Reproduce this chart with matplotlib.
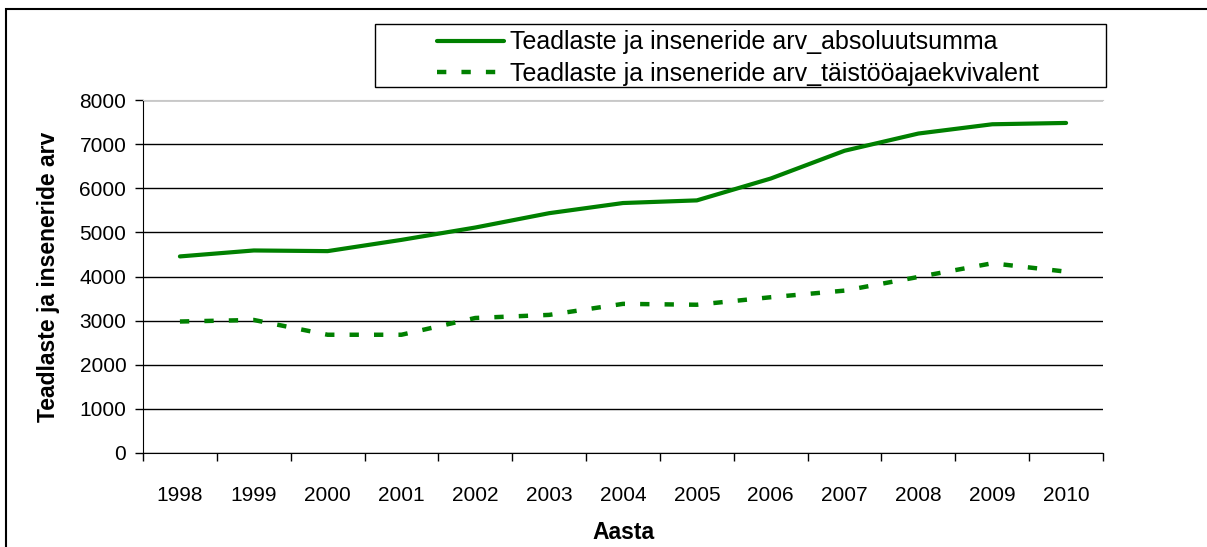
import matplotlib
matplotlib.use('Agg')
import matplotlib.pyplot as plt
from matplotlib.patches import Rectangle
import numpy as np

plt.rcParams['font.family'] = ['Liberation Sans', 'DejaVu Sans']

years = ['1998', '1999', '2000', '2001', '2002', '2003', '2004',
         '2005', '2006', '2007', '2008', '2009', '2010']
absolute = [4455, 4590, 4575, 4830, 5110, 5435, 5665,
            5725, 6220, 6850, 7240, 7450, 7480]
fte = [2980, 3015, 2680, 2680, 3060, 3130, 3380,
       3360, 3530, 3680, 3990, 4300, 4110]

label_abs = 'Teadlaste ja inseneride arv_absoluutsumma'
label_fte = 'Teadlaste ja inseneride arv_täistööajaekvivalent'
green = '#008000'

W, H = 1207, 547
fig = plt.figure(figsize=(W / 100, H / 100), dpi=100)
ax = fig.add_axes([143 / W, 1 - 453 / H, (1103 - 143) / W, 353 / H])

x = np.arange(len(years))
ax.plot(x, absolute, color=green, lw=3, solid_capstyle='round',
        solid_joinstyle='round', label=label_abs)
ax.plot(x, fte, color=green, lw=3.2, dashes=(2.1, 3.4), dash_capstyle='butt',
        label=label_fte)

ax.set_xlim(-0.5, len(years) - 0.5)
ax.set_ylim(0, 8000)
ax.set_yticks(range(0, 8001, 1000))
ax.yaxis.grid(True, color='black', lw=1)
ax.set_axisbelow(True)

# category labels centred, tick marks between categories
ax.set_xticks(x)
ax.set_xticklabels(years)
ax.set_xticks(np.arange(-0.5, len(years)), minor=True)
ax.tick_params(axis='x', which='major', length=0, pad=24, labelsize=15)
ax.tick_params(axis='x', which='minor', length=6, direction='out', width=1)
ax.tick_params(axis='y', length=6, direction='out', width=1, labelsize=15, pad=6)

ax.spines['right'].set_visible(False)
ax.spines['top'].set_color('#c8c8c8')
ax.spines['left'].set_color('black')
ax.spines['bottom'].set_color('black')

ax.set_ylabel('Teadlaste ja inseneride arv', fontsize=16.5, fontweight='bold', labelpad=14)
ax.set_xlabel('Aasta', fontsize=16.5, fontweight='bold', labelpad=11)

# legend: content without frame, box drawn separately
leg = ax.legend(loc='center', bbox_to_anchor=(738 / W, 1 - 58 / H),
                bbox_transform=fig.transFigure, fontsize=18,
                frameon=False, handlelength=2.7, handletextpad=0.25,
                labelspacing=0.3, borderpad=0, borderaxespad=0)
fig.add_artist(Rectangle((375 / W, 1 - 87 / H), (1106 - 375) / W, 63 / H,
                         transform=fig.transFigure, fill=False,
                         edgecolor='black', lw=1))

# outer chart border
fig.add_artist(Rectangle((6 / W, -0.1), 1.2, 1 - 9 / H + 0.1, transform=fig.transFigure,
                         fill=False, edgecolor='black', lw=1.5))

fig.savefig('out.png', dpi=100)
